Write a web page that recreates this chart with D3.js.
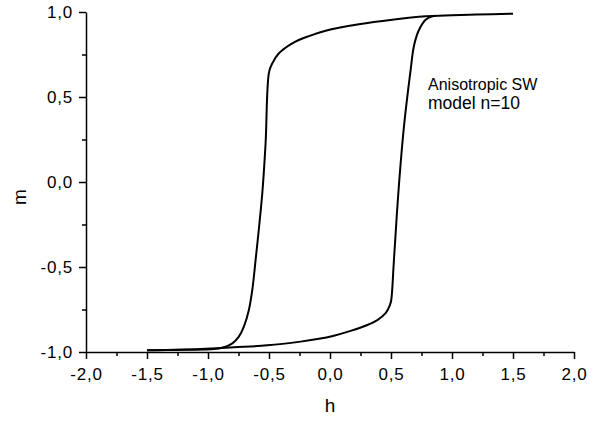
<!DOCTYPE html>
<html>
<head>
<meta charset="utf-8">
<script src="https://d3js.org/d3.v7.min.js"></script>
<style>
  body { margin: 0; background: #fff; }
  text { font-family: "Liberation Sans", Arial, sans-serif; fill: #000; }
</style>
</head>
<body>
<div id="chart"></div>
<script>
// hysteresis loop
// upper branch (field coming down from +1.5), listed with h ascending
const upperH = [-1.5, -1.2, -0.95, -0.87, -0.80, -0.747, -0.706, -0.665, -0.637, -0.61, -0.555, -0.528, -0.50, -0.473, -0.419, -0.309, -0.173, -0.036, 0.237, 0.51, 0.784, 1.0, 1.2, 1.5];
const upperM = [-0.99, -0.987, -0.982, -0.972, -0.949, -0.91, -0.851, -0.753, -0.635, -0.46, -0.066, 0.227, 0.645, 0.698, 0.757, 0.816, 0.858, 0.89, 0.928, 0.955, 0.975, 0.981, 0.985, 0.99];
// lower branch (field going up from -1.5)
const lowerH = [-1.5, -1.061, -0.788, -0.514, -0.241, -0.104, 0.032, 0.169, 0.306, 0.388, 0.456, 0.491, 0.502, 0.524, 0.56, 0.606, 0.661, 0.688, 0.729, 0.784, 0.84, 0.866];
const lowerM = [-0.99, -0.982, -0.972, -0.961, -0.939, -0.924, -0.904, -0.876, -0.841, -0.812, -0.772, -0.724, -0.694, -0.46, -0.066, 0.325, 0.66, 0.80, 0.894, 0.955, 0.975, 0.978];

const xTicks = [-2.0, -1.5, -1.0, -0.5, 0.0, 0.5, 1.0, 1.5, 2.0];
const yTicks = [-1.0, -0.5, 0.0, 0.5, 1.0];
const noteLines = ["Anisotropic SW", "model n=10"];

const svgWidth = 607;
const svgHeight = 421;

const margin = { top: 12, right: 33, bottom: 69, left: 86 };
const width = svgWidth - margin.left - margin.right;
const height = svgHeight - margin.top - margin.bottom;

const svg = d3.select("#chart")
    .append("svg")
    .attr("width", svgWidth)
    .attr("height", svgHeight);

const chartGroup = svg.append("g")
    .attr("transform", `translate(${margin.left}, ${margin.top})`);

const x = d3.scaleLinear().domain([-2, 2]).range([0, width]);
const y = d3.scaleLinear().domain([-1, 1]).range([height, 0]);

// comma decimals, plain hyphen for the minus sign
const fmt = d => d3.format(".1f")(d).replace("\u2212", "-").replace(".", ",");

// minor ticks first, then major with labels
const xMinor = d3.range(-1.75, 2, 0.5);
const yMinor = d3.range(-0.75, 1, 0.5);

chartGroup.append("g")
    .attr("transform", `translate(0, ${height})`)
    .call(d3.axisBottom(x).tickValues(xMinor).tickSize(4).tickFormat(""))
    .call(g => g.select(".domain").remove());

chartGroup.append("g")
    .call(d3.axisLeft(y).tickValues(yMinor).tickSize(4).tickFormat(""))
    .call(g => g.select(".domain").remove());

const xAxis = chartGroup.append("g")
    .attr("transform", `translate(0, ${height})`)
    .call(d3.axisBottom(x).tickValues(xTicks).tickSize(7).tickSizeOuter(0).tickPadding(5).tickFormat(fmt));

const yAxis = chartGroup.append("g")
    .call(d3.axisLeft(y).tickValues(yTicks).tickSize(7).tickSizeOuter(0).tickPadding(6).tickFormat(fmt));

chartGroup.selectAll(".tick line, .domain")
    .attr("stroke", "#000")
    .attr("stroke-width", 1.5);

chartGroup.selectAll(".tick text")
    .style("font-family", "'Liberation Sans', Arial, sans-serif")
    .style("font-size", "17px")
    .style("letter-spacing", "0.8px")
    .attr("fill", "#000");

xAxis.selectAll(".tick text").attr("dy", "0.95em");

// curves
const line = d3.line()
    .x(d => x(d[0]))
    .y(d => y(d[1]))
    .curve(d3.curveCatmullRom.alpha(0.5));

const upper = upperH.map((h, i) => [h, upperM[i]]);
const lower = lowerH.map((h, i) => [h, lowerM[i]]);

chartGroup.selectAll(".branch")
    .data([upper, lower])
    .enter()
    .append("path")
    .attr("class", "branch")
    .attr("d", line)
    .attr("fill", "none")
    .attr("stroke", "#000")
    .attr("stroke-width", 2);

// axis titles
svg.append("text")
    .attr("x", margin.left + width / 2)
    .attr("y", 412)
    .attr("text-anchor", "middle")
    .style("font-size", "19px")
    .text("h");

svg.append("text")
    .attr("transform", `translate(26, 197) rotate(-90)`)
    .attr("text-anchor", "middle")
    .style("font-size", "19px")
    .text("m");

// note
svg.append("text")
    .attr("x", 428)
    .attr("y", 90)
    .style("font-size", "16px")
    .text(noteLines[0]);

svg.append("text")
    .attr("x", 428)
    .attr("y", 109)
    .style("font-size", "17.5px")
    .text(noteLines[1]);
</script>
</body>
</html>
